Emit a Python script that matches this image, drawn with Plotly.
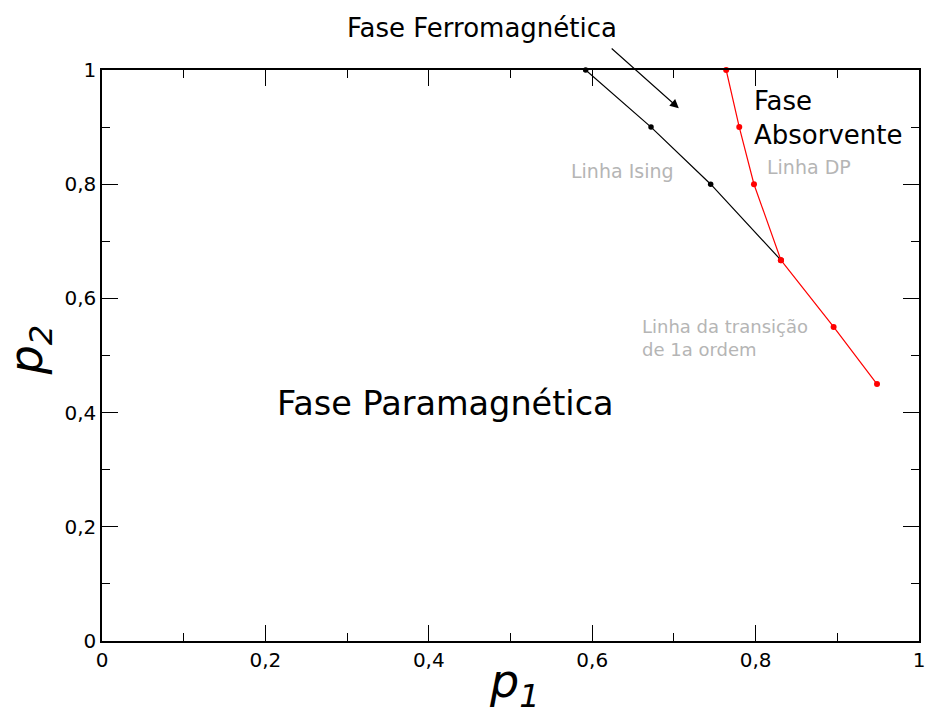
import plotly.graph_objects as go

# Data
ising_p1 = [0.592, 0.672, 0.745, 0.831]
ising_p2 = [1.0, 0.9, 0.8, 0.667]
dp_p1 = [0.764, 0.780, 0.798, 0.831]
dp_p2 = [1.0, 0.9, 0.8, 0.667]
first_p1 = [0.831, 0.8955, 0.9486]
first_p2 = [0.667, 0.55, 0.45]
tick_vals = [0, 0.2, 0.4, 0.6, 0.8, 1]
tick_text = ["0", "0,2", "0,4", "0,6", "0,8", "1"]

FONT = "DejaVu Sans"
GRAY = "#b5b5b5"

fig = go.Figure()
fig.add_trace(go.Scatter(x=ising_p1, y=ising_p2, mode="lines+markers",
                         line=dict(color="black", width=1.2),
                         marker=dict(color="black", size=5.5),
                         cliponaxis=False, showlegend=False))
fig.add_trace(go.Scatter(x=dp_p1, y=dp_p2, mode="lines+markers",
                         line=dict(color="#ff0000", width=1.2),
                         marker=dict(color="#ff0000", size=6),
                         cliponaxis=False, showlegend=False))
fig.add_trace(go.Scatter(x=first_p1, y=first_p2, mode="lines+markers",
                         line=dict(color="#ff0000", width=1.2),
                         marker=dict(color="#ff0000", size=6),
                         cliponaxis=False, showlegend=False))

axis_common = dict(range=[0, 1], tickvals=tick_vals, ticktext=tick_text,
                   ticks="inside", ticklen=16, tickwidth=1.3, tickcolor="black",
                   showline=True, linecolor="black", linewidth=1.5,
                   mirror="allticks", showgrid=False, zeroline=False,
                   automargin=False,
                   tickfont=dict(family=FONT, size=20, color="black"),
                   minor=dict(tickvals=[0.1, 0.3, 0.5, 0.7, 0.9], ticks="inside",
                              ticklen=8, tickwidth=1.0, tickcolor="black"))

fig.update_xaxes(**axis_common)
fig.update_yaxes(**axis_common)

ann = []
ann.append(dict(x=0.465, y=1.0735, xref="paper", yref="paper", text="Fase Ferromagnética",
                showarrow=False, font=dict(family=FONT, size=26, color="black"),
                xanchor="center", yanchor="middle"))
ann.append(dict(x=0.706, y=0.933, xref="x", yref="y", ax=0.622, ay=1.040,
                axref="x", ayref="y", text="", showarrow=True, arrowhead=2,
                arrowsize=1.6, arrowwidth=1.1, arrowcolor="black"))
ann.append(dict(x=0.7956, y=0.9168, xref="x", yref="y", text="Fase<br>Absorvente",
                showarrow=False, font=dict(family=FONT, size=26, color="black"),
                xanchor="left", yanchor="middle", align="left"))
ann.append(dict(x=0.6365, y=0.823, xref="x", yref="y", text="Linha Ising",
                showarrow=False, font=dict(family=FONT, size=19, color=GRAY),
                xanchor="center", yanchor="middle"))
ann.append(dict(x=0.865, y=0.830, xref="x", yref="y", text="Linha DP",
                showarrow=False, font=dict(family=FONT, size=19, color=GRAY),
                xanchor="center", yanchor="middle"))
ann.append(dict(x=0.6585, y=0.5306, xref="x", yref="y",
                text="Linha da transição<br>de 1a ordem",
                showarrow=False, font=dict(family=FONT, size=18, color=GRAY),
                xanchor="left", yanchor="middle", align="left"))
ann.append(dict(x=0.42, y=0.4168, xref="x", yref="y", text="Fase Paramagnética",
                showarrow=False, font=dict(family=FONT, size=33.5, color="black"),
                xanchor="center", yanchor="middle"))
# axis titles
ann.append(dict(x=0.505, y=-0.077, xref="paper", yref="paper",
                text="<i>p<sub>1</sub></i>", showarrow=False,
                font=dict(family=FONT, size=46, color="black"),
                xanchor="center", yanchor="middle"))
ann.append(dict(x=-0.089, y=0.5095, xref="paper", yref="paper",
                text="<i>p<sub>2</sub></i>", showarrow=False, textangle=-90,
                font=dict(family=FONT, size=46, color="black"),
                xanchor="center", yanchor="middle"))

fig.update_layout(width=927, height=716,
                  margin=dict(l=102, r=8, t=70, b=75, autoexpand=False),
                  paper_bgcolor="white", plot_bgcolor="white",
                  font=dict(family=FONT, color="black"),
                  annotations=ann)

fig.write_html("out.html", config={"displayModeBar": False},
               post_script="document.body.style.margin='0';document.body.style.overflow='hidden';")
